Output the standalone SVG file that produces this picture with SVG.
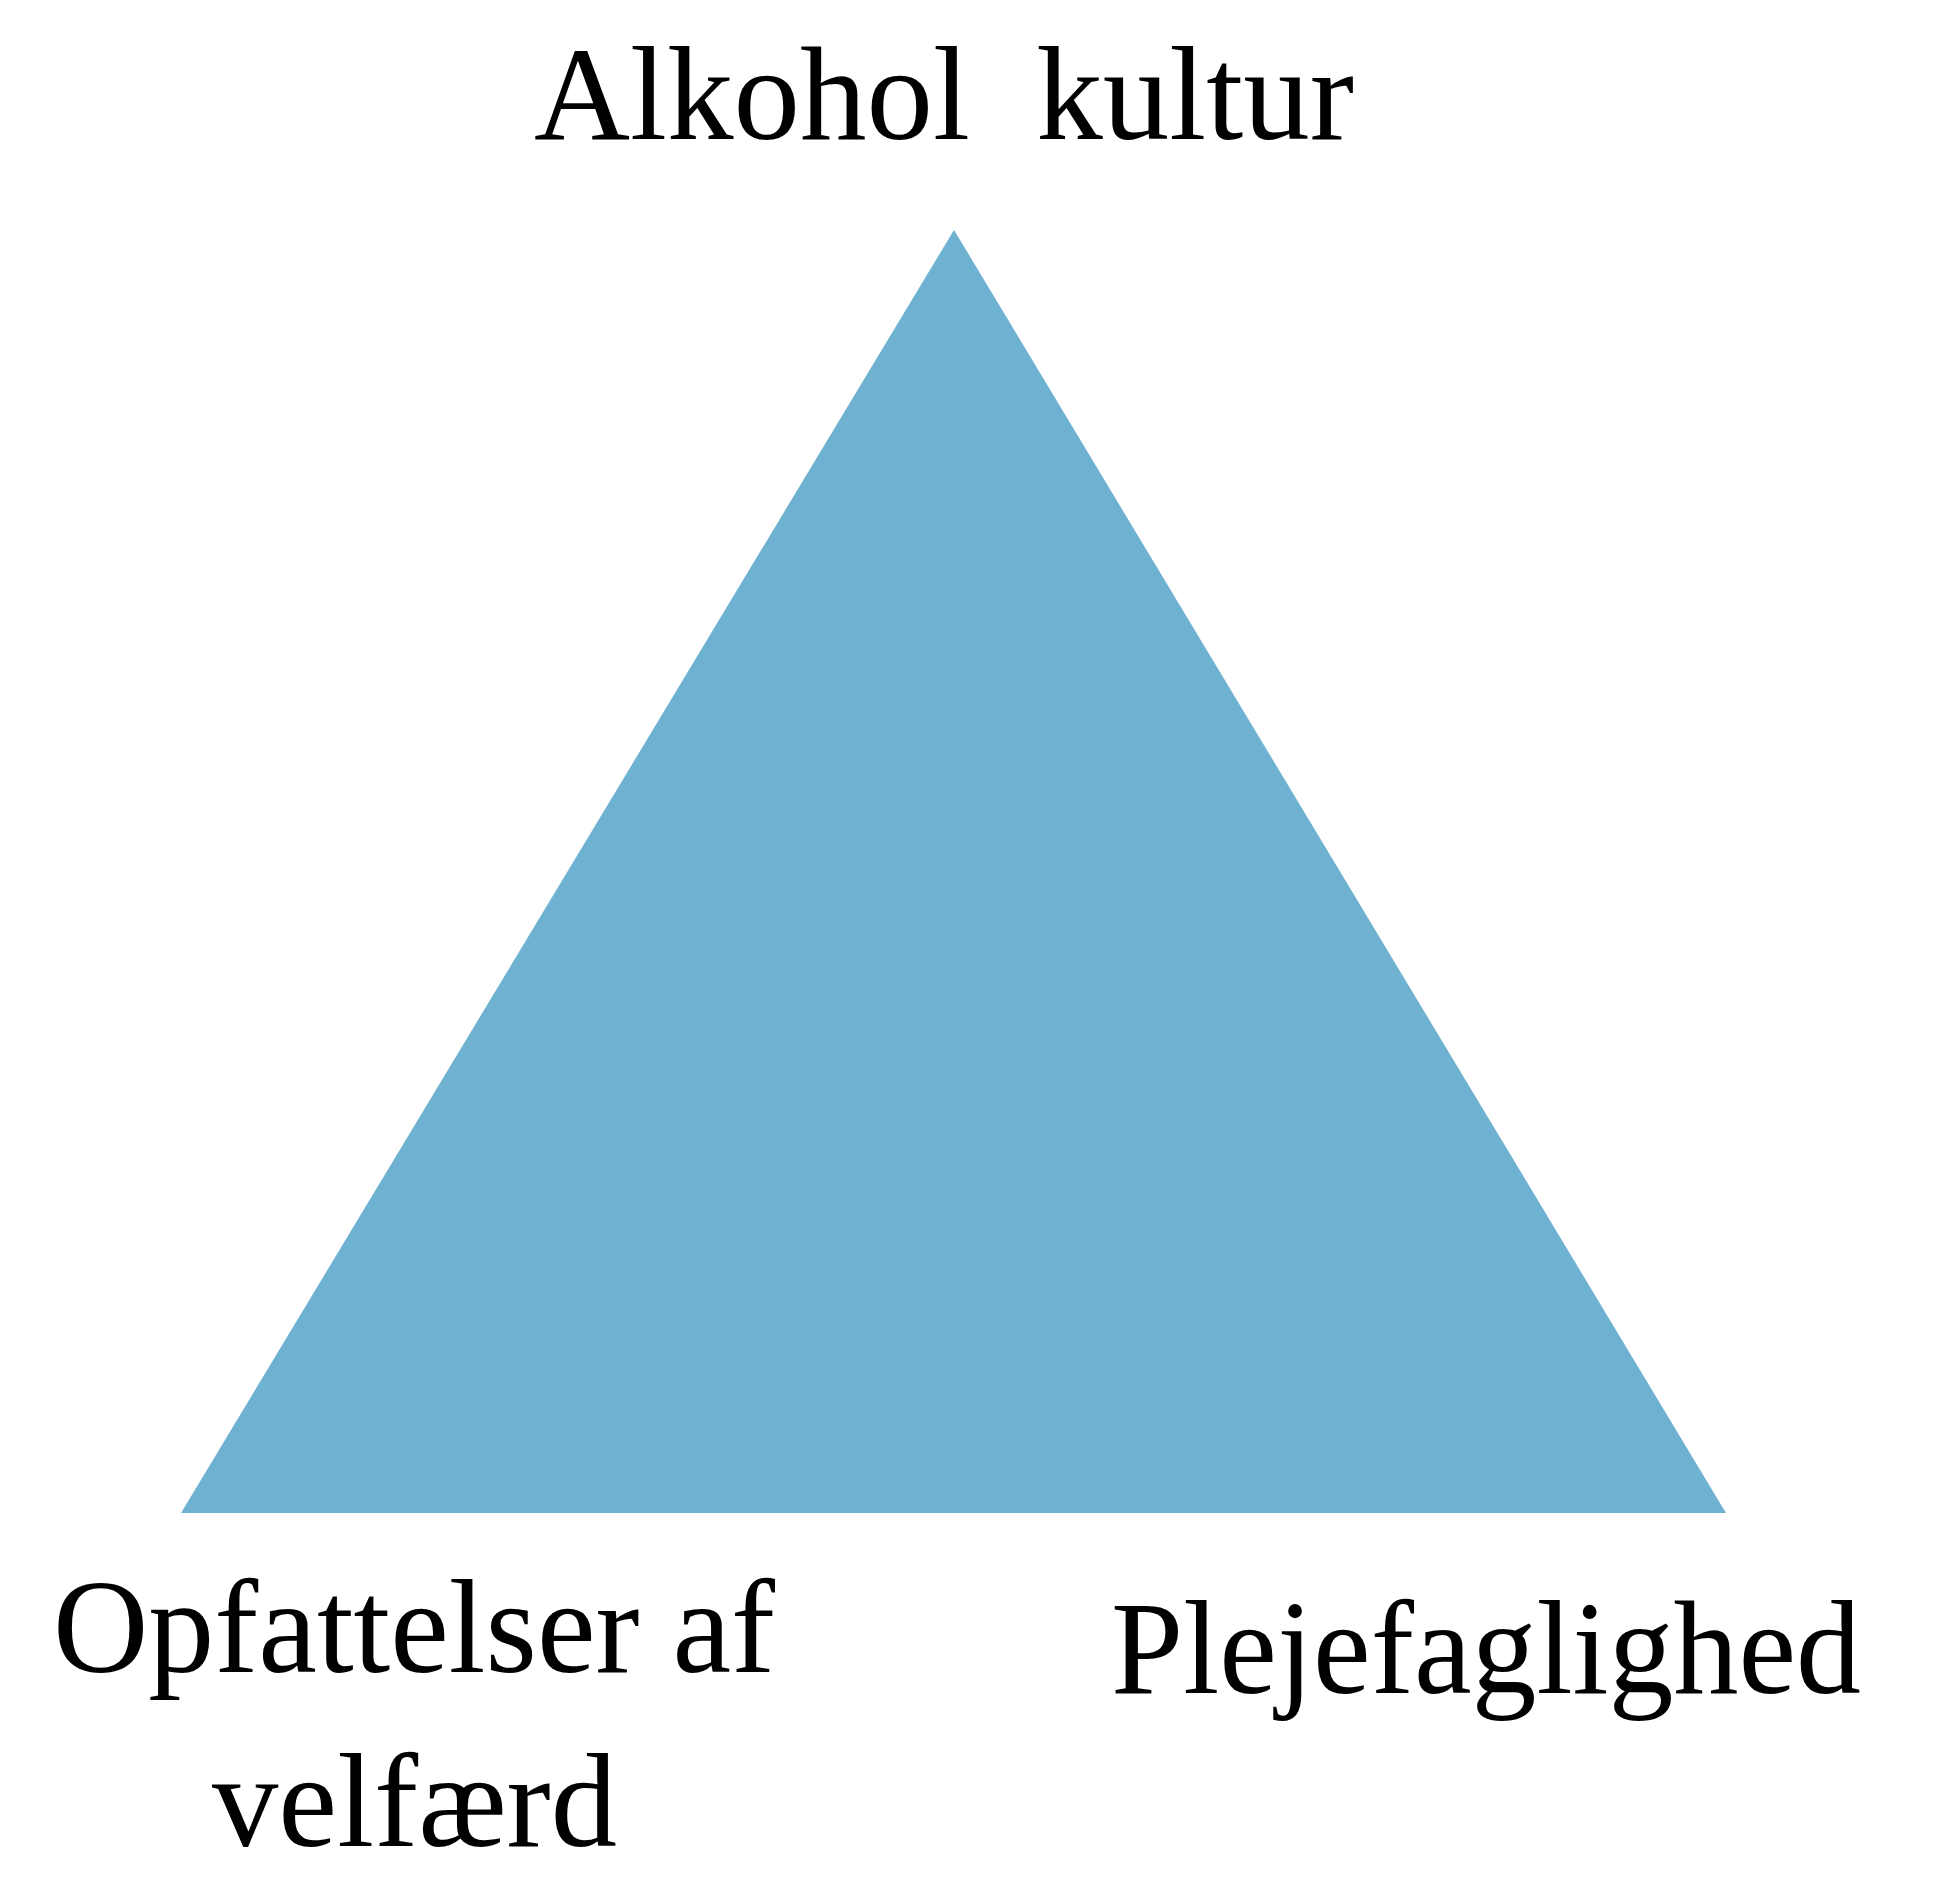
<svg xmlns="http://www.w3.org/2000/svg" width="1935" height="1883" viewBox="0 0 1935 1883">
<style>
.lbl{font-family:"Liberation Serif","Times New Roman",serif;font-size:134px;fill:#000;}
</style>
<rect width="1935" height="1883" fill="#fff"/>
<g id="triangle">
<polygon points="954,230 1726,1513 181,1513" fill="#6EB1D1"/>
</g>
<g id="label-top">
<text class="lbl" x="534" y="139" textLength="820" lengthAdjust="spacingAndGlyphs" xml:space="preserve">Alkohol  kultur</text>
</g>
<g id="label-left">
<text class="lbl" x="53" y="1672" textLength="722" lengthAdjust="spacingAndGlyphs">Opfattelser af</text>
<text class="lbl" x="212" y="1846" textLength="405" lengthAdjust="spacingAndGlyphs">velfærd</text>
</g>
<g id="label-right">
<text class="lbl" x="1111" y="1693" textLength="750" lengthAdjust="spacingAndGlyphs">Plejefaglighed</text>
</g>
<g id="connectors"></g>
</svg>
